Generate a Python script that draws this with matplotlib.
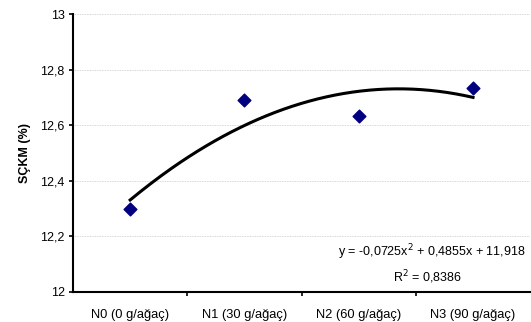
import numpy as np
import matplotlib.pyplot as plt

plt.rcParams['font.family'] = ['Liberation Sans', 'DejaVu Sans']

categories = ["N0 (0 g/ağaç)", "N1 (30 g/ağaç)", "N2 (60 g/ağaç)", "N3 (90 g/ağaç)"]
values = [12.30, 12.69, 12.633, 12.735]
# polynomial trendline coefficients shown on the chart (a, b, c)
trend_coef = [-0.0725, 0.4855, 11.918]
r_squared = 0.8386

x = np.arange(1, len(categories) + 1)

fig = plt.figure(figsize=(5.31, 3.22), dpi=100)
ax = fig.add_axes([0.1375, 0.0932, 0.861, 0.8633])

xs = np.linspace(x[0], x[-1], 200)
ax.plot(xs, np.polyval(trend_coef, xs), color="black", lw=2.2, zorder=2)
ax.scatter(x, values, marker="D", s=42, color="#000080", zorder=3)

ax.set_xlim(0.5, len(categories) + 0.5)
ax.set_ylim(12, 13)
ax.set_yticks(np.arange(12, 13.01, 0.2))
ax.set_yticklabels(["12", "12,2", "12,4", "12,6", "12,8", "13"], fontsize=9)
ax.set_xticks(x)
ax.set_xticklabels(categories, fontsize=9.3)
ax.set_xticks(np.arange(1.5, len(categories), 1), minor=True)
ax.tick_params(axis="x", which="major", length=0, pad=12)
ax.tick_params(axis="x", which="minor", length=3, width=1.2, direction="out")
ax.tick_params(axis="y", length=3, width=1.2, direction="out", pad=3)

ax.grid(axis="y", color="#c8c8c8", lw=0.6, ls=(0, (1, 1)))
ax.set_axisbelow(True)
for s in ["top", "right"]:
    ax.spines[s].set_visible(False)
for s in ["left", "bottom"]:
    ax.spines[s].set_linewidth(1.5)

ax.set_ylabel("SÇKM (%)", fontsize=9, fontweight="bold", labelpad=7)

eq = "y = -0,0725x$^2$ + 0,4855x + 11,918"
ax.text(0.989, 0.144, eq, transform=ax.transAxes, fontsize=9, ha="right", va="center")
ax.text(0.775, 0.054, "R$^2$ = " + f"{r_squared:.4f}".replace(".", ","),
        transform=ax.transAxes, fontsize=9, ha="center", va="center")

fig.savefig("out.png", dpi=100)
